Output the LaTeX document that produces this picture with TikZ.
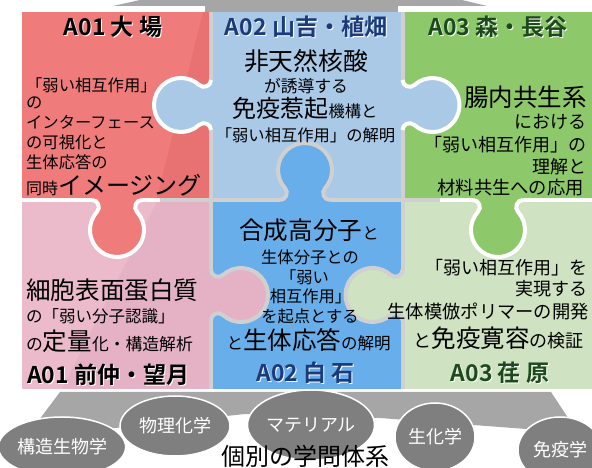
\documentclass[tikz,border=0pt]{standalone}
\usepackage{fontspec}
\setmainfont{Noto Sans CJK JP}[BoldFont={Noto Sans CJK JP Bold}]
\usetikzlibrary{shapes.geometric}
\definecolor{cRed}{HTML}{F07B7B}
\definecolor{cRedD}{HTML}{E87272}
\definecolor{cLB}{HTML}{A9C9E6}
\definecolor{cGreen}{HTML}{8DC86A}
\definecolor{cPink}{HTML}{EBBACB}
\definecolor{cPinkD}{HTML}{E4B2C4}
\definecolor{cBlue}{HTML}{68AEEA}
\definecolor{cLG}{HTML}{CFE2C1}
\definecolor{cGap}{HTML}{D0D0D0}
\definecolor{cBase}{HTML}{A6A6A6}
\definecolor{cEll}{HTML}{7F7F7F}
\definecolor{cNavy}{HTML}{1B3A7A}
\definecolor{cDkGreen}{HTML}{1D4A1D}
\newcommand{\fsz}[1]{\fontsize{#1bp}{#1bp}\selectfont}
\newcommand{\knobfill}{(-25,-3) -- (-25,0) .. controls (-19,0) and (-16,7.5) .. (-20,11.9) arc[start angle=222.1, end angle=-42.1, radius=27] .. controls (16,7.5) and (19,0) .. (25,0) -- (25,-3) -- cycle}
\newcommand{\knobline}{(-25,0) .. controls (-19,0) and (-16,7.5) .. (-20,11.9) arc[start angle=222.1, end angle=-42.1, radius=27] .. controls (16,7.5) and (19,0) .. (25,0)}
\newcommand{\pzknob}[5]{%
  \begin{scope}[shift={(#1,#2)}, rotate=#3]
    \fill[#4] \knobfill;
    \draw[#5, line width=4bp] \knobline;
  \end{scope}}
\tikzset{
  lt/.style={anchor=base west, inner sep=0pt},
  rt/.style={anchor=base east, inner sep=0pt},
  ct/.style={anchor=base, inner sep=0pt},
  ttl/.style={anchor=base, inner sep=0pt, font=\fsz{23}\bfseries},
  ell/.style={ellipse, fill=cEll, draw=white, line width=1.5bp, inner sep=0pt, text=white, font=\fsz{18}}
}
\begin{document}
\begin{tikzpicture}[x=1bp, y=1bp]
\useasboundingbox (0,0) rectangle (592,468);
% grey backdrop
\fill[cBase] (113,462) -- (140,468) -- (462,468) -- (487,462) -- cycle;
\fill[cBase] (205,456) rectangle (398,462);
\fill[cBase] (60,76) -- (551,76) -- (578,35) -- (500,41) -- (380,50) -- (245,54) -- (115,40) -- (30,36) -- cycle;
% gaps
\fill[cGap] (22,79) rectangle (592,456);
% pieces
\fill[cRed] (22,270) rectangle (209,456);
\fill[cRedD] (203,456) -- (209,456) -- (209,270) -- (157,270) -- cycle;
\fill[cLB] (213,270) rectangle (400.5,456);
\fill[cGreen] (404.5,270) rectangle (592,456);
\fill[cPink] (22,79) rectangle (209,266);
\fill[cPinkD] (157,266) -- (209,266) -- (209,79) -- (62,79) -- cycle;
\fill[cBlue] (213,79) rectangle (400.5,266);
\fill[cLG] (404.5,79) rectangle (592,266);
% white highlights on gaps
\fill[white] (22,266) rectangle (160,270);
\fill[white] (440,266) rectangle (592,270);
% tabs
\pzknob{211}{363}{90}{cLB}{white}
\pzknob{402.5}{363}{-90}{cLB}{white}
\pzknob{117}{268}{180}{cRed}{white}
\pzknob{498}{268}{180}{cGreen}{white}
\pzknob{305}{268}{0}{cBlue}{cGap}
\pzknob{211}{173}{-90}{cPinkD}{cGap}
\pzknob{402.5}{173}{90}{cLG}{cGap}
% titles
\node[ttl, text=white] (t1s) at (114,431.3) {A01 大 場};
\node[ttl] (t1) at (113,432.3) {A01 大 場};
\node[ttl, text=white] (t2s) at (307,431.3) {A02 山吉・植畑};
\node[ttl, text=cNavy] (t2) at (306,432.3) {A02 山吉・植畑};
\node[ttl, text=white] (t3s) at (499,431.3) {A03 森・長谷};
\node[ttl, text=cDkGreen] (t3) at (498,432.3) {A03 森・長谷};
\node[ttl, anchor=base west, text=white] (t4s) at (28,83.3) {A01 前仲・望月};
\node[ttl, anchor=base west] (t4) at (27,84.3) {A01 前仲・望月};
\node[ttl, text=white] (t5s) at (306.5,85.3) {A02 白 石};
\node[ttl, text=cNavy] (t5) at (305.5,86.3) {A02 白 石};
\node[ttl, text=white] (t6s) at (501,85.3) {A03 荏 原};
\node[ttl, text=cDkGreen] (t6) at (500,86.3) {A03 荏 原};
% red piece
\node[lt, font=\fsz{16.3}] (r1) at (26,376.8) {「弱い相互作用」};
\node[lt, font=\fsz{16.3}] (r2) at (26,359.8) {の};
\node[lt, font=\fsz{16.3}] (r3) at (26,339.8) {インターフェース};
\node[lt, font=\fsz{16.3}] (r4) at (26,319.8) {の可視化と};
\node[lt, font=\fsz{16.3}] (r5) at (26,299.8) {生体応答の};
\node[lt] (r6) at (26,273) {{\fsz{16}同時}{\fsz{24}イメージング}};
% light blue piece
\node[ct, font=\fsz{24.8}] (b1) at (306,397.6) {非天然核酸};
\node[ct, font=\fsz{16.8}] (b2) at (306,375.6) {が誘導する};
\node[ct] (b3) at (305,350.9) {{\fsz{24}免疫惹起}{\fsz{16.3}機構と}};
\node[ct, font=\fsz{16.3}] (b4) at (305.5,326.8) {「弱い相互作用」の解明};
% green piece
\node[rt, font=\fsz{24.5}] (g1) at (587,361.7) {腸内共生系};
\node[rt, font=\fsz{18}] (g2) at (587,339.2) {における};
\node[rt, font=\fsz{18}] (g3) at (587,316.2) {「弱い相互作用」の};
\node[rt, font=\fsz{18}] (g4) at (587,294.2) {理解と};
\node[rt, font=\fsz{18.3}] (g5) at (584,273.2) {材料共生への応用};
% pink piece
\node[lt, font=\fsz{24.6}] (p1) at (26,168.7) {細胞表面蛋白質};
\node[lt, font=\fsz{16.5}] (p2) at (26,145.7) {の「弱い分子認識」};
\node[lt] (p3) at (26,117) {{\fsz{16.8}の}{\fsz{24.5}定量}{\fsz{16.8}化・構造解析}};
% blue piece
\node[ct] (u1) at (309,228.7) {{\fsz{24.6}合成高分子}{\fsz{16.5}と}};
\node[ct, font=\fsz{16.3}] (u2) at (310,204.8) {生体分子との};
\node[ct, font=\fsz{16.3}] (u3) at (304.5,184.8) {「弱い};
\node[ct, font=\fsz{16.3}] (u4) at (310.5,165.8) {相互作用」};
\node[ct, font=\fsz{16.3}] (u5) at (310,145.8) {を起点とする};
\node[ct] (u6) at (308.5,118.7) {{\fsz{16.5}と}{\fsz{24.5}生体応答}{\fsz{16.5}の解明}};
% light green piece
\node[rt, font=\fsz{18}] (l1) at (588,193.2) {「弱い相互作用」を};
\node[rt, font=\fsz{18}] (l2) at (588,172.2) {実現する};
\node[rt, font=\fsz{18.3}] (l3) at (589,149) {生体模倣ポリマーの開発};
\node[rt] (l4) at (584,120.7) {{\fsz{18}と}{\fsz{24.5}免疫寛容}{\fsz{18}の検証}};
% disciplines
\node[ell, minimum width=110bp, minimum height=60bp] (e1) at (62,21) {構造生物学};
\node[ell, minimum width=110bp, minimum height=60bp] (e2) at (175,42) {物理化学};
\node[ell, minimum width=102bp, minimum height=70bp] (e3) at (311,43) {マテリアル};
\node[ell, minimum width=80bp, minimum height=68bp] (e4) at (435,31) {生化学};
\node[ell, minimum width=84bp, minimum height=66bp] (e5) at (560,18) {免疫学};
\node[ct, font=\fsz{24}] (kb) at (305,2.5) {個別の学問体系};
\end{tikzpicture}
\end{document}
